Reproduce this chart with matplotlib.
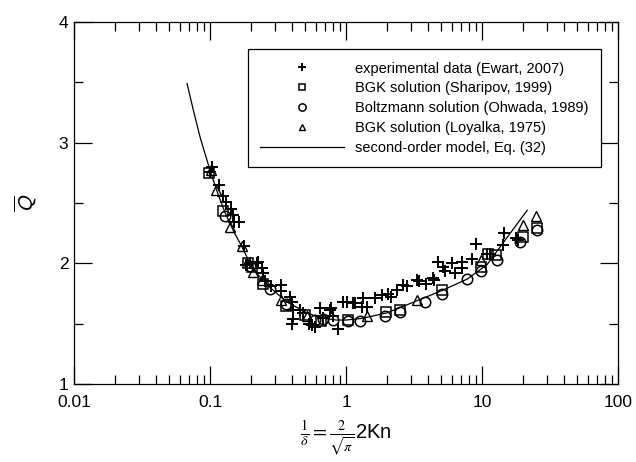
import matplotlib
matplotlib.use("Agg")
import matplotlib.pyplot as plt
from matplotlib.ticker import FixedLocator, LogLocator, NullFormatter, FixedFormatter

plt.rcParams['font.family'] = ['Liberation Sans', 'DejaVu Sans']
plt.rcParams['mathtext.fontset'] = 'stix'

# experimental data (Ewart, 2007)
exp_x = [0.103, 0.100, 0.117, 0.125, 0.131, 0.142, 0.147, 0.149, 0.162, 0.179, 0.183,
         0.187, 0.197, 0.220, 0.227, 0.240, 0.247, 0.253, 0.280, 0.330, 0.330, 0.386,
         0.398, 0.410, 0.410, 0.400, 0.460, 0.480, 0.530, 0.560, 0.590, 0.640, 0.680,
         0.760, 0.780, 0.800, 0.880, 0.950, 1.01, 1.13, 1.16, 1.30, 1.34, 1.42, 1.64,
         1.83, 2.04, 2.15, 2.37, 2.62, 2.79, 3.32, 3.45, 3.90, 4.37, 4.40, 4.78, 5.20,
         5.35, 5.98, 6.30, 7.10, 7.10, 8.40, 9.10, 10.8, 11.4, 14.2, 14.6, 17.9, 18.3]
exp_q = [2.80, 2.76, 2.65, 2.56, 2.51, 2.45, 2.40, 2.34, 2.34, 2.14, 1.99,
         1.99, 2.00, 2.00, 2.01, 1.96, 1.92, 1.85, 1.81, 1.82, 1.77, 1.72,
         1.68, 1.61, 1.54, 1.50, 1.61, 1.585, 1.50, 1.49, 1.475, 1.63, 1.55,
         1.61, 1.63, 1.56, 1.46, 1.68, 1.68, 1.67, 1.67, 1.64, 1.71, 1.64, 1.71,
         1.74, 1.75, 1.72, 1.78, 1.82, 1.81, 1.86, 1.85, 1.83, 1.875, 1.86, 2.01, 1.97,
         1.94, 2.00, 1.92, 2.01, 1.96, 2.04, 2.16, 2.08, 2.08, 2.15, 2.25, 2.21, 2.19]

# BGK solution (Sharipov, 1999)
shar_x = [0.098, 0.125, 0.190, 0.203, 0.247, 0.360, 0.500, 0.660, 1.04, 1.98, 2.50,
          5.06, 9.9, 11.1, 12.7, 20.1, 25.4]
shar_q = [2.75, 2.43, 2.00, 1.97, 1.83, 1.65, 1.57, 1.52, 1.53, 1.60, 1.61,
          1.78, 1.97, 2.08, 2.07, 2.22, 2.29]

# Boltzmann solution (Ohwada, 1989)
ohw_x = [0.129, 0.197, 0.275, 0.360, 0.590, 0.680, 0.800, 1.04, 1.27, 1.94, 2.50,
         3.80, 5.07, 7.8, 9.9, 12.8, 19.0, 25.4]
ohw_q = [2.39, 1.98, 1.79, 1.66, 1.53, 1.54, 1.53, 1.52, 1.52, 1.56, 1.60,
         1.68, 1.75, 1.87, 1.94, 2.03, 2.18, 2.28]

# BGK solution (Loyalka, 1975)
loy_x = [0.101, 0.111, 0.140, 0.171, 0.208, 0.240, 0.330, 0.520, 1.42, 3.30, 9.9, 20.1, 25.0]
loy_q = [2.77, 2.61, 2.30, 2.14, 1.93, 1.86, 1.70, 1.56, 1.56, 1.70, 2.03, 2.32, 2.39]

# second-order model, Eq. (32)
mod_x = [0.0678, 0.0750, 0.0843, 0.100, 0.114, 0.129, 0.150, 0.171, 0.207, 0.276,
         0.367, 0.516, 0.640, 0.850, 1.00, 1.33, 2.00, 3.50, 5.20, 7.80, 10.9,
         14.3, 21.5]
mod_q = [3.49, 3.28, 3.05, 2.77, 2.58, 2.42, 2.26, 2.14, 1.95, 1.80,
         1.68, 1.59, 1.55, 1.53, 1.53, 1.545, 1.59, 1.70, 1.78, 1.87, 1.99,
         2.17, 2.44]

fig = plt.figure(figsize=(6.36, 4.62), dpi=100)
ax = fig.add_axes([0.1164, 0.1688, 0.8553, 0.7836])

ax.plot(exp_x, exp_q, '+', color='black', ms=8, mew=1.4, ls='none',
        label='experimental data (Ewart, 2007)')
ax.plot(shar_x, shar_q, 's', mfc='none', mec='black', ms=7, mew=1.1, ls='none',
        label='BGK solution (Sharipov, 1999)')
ax.plot(ohw_x, ohw_q, 'o', mfc='none', mec='black', ms=7.5, mew=1.1, ls='none',
        label='Boltzmann solution (Ohwada, 1989)')
ax.plot(loy_x, loy_q, '^', mfc='none', mec='black', ms=7, mew=1.0, ls='none',
        label='BGK solution (Loyalka, 1975)')
ax.plot(mod_x, mod_q, '-', color='black', lw=0.9,
        label='second-order model, Eq. (32)')

ax.set_xscale('log')
ax.set_xlim(0.01, 100)
ax.set_ylim(1, 4)
ax.xaxis.set_major_locator(FixedLocator([0.01, 0.1, 1, 10, 100]))
ax.xaxis.set_major_formatter(FixedFormatter(['0.01', '0.1', '1', '10', '100']))
ax.xaxis.set_minor_locator(LogLocator(base=10, subs=range(2, 10)))
ax.xaxis.set_minor_formatter(NullFormatter())
ax.yaxis.set_major_locator(FixedLocator([1, 2, 3, 4]))
ax.yaxis.set_minor_locator(FixedLocator([1.5, 2.5, 3.5]))

ax.tick_params(which='both', direction='in', top=True, right=True,
               labelsize=12.5, width=0.9, colors='black')
ax.tick_params(which='major', length=13)
ax.tick_params(which='minor', length=6.5)
ax.tick_params(axis='x', pad=8)
ax.tick_params(axis='y', pad=4)
for s in ax.spines.values():
    s.set_linewidth(0.9)

ax.set_ylabel(r'$\overline{\mathsf{Q}}$', fontsize=15, labelpad=14)
ax.set_xlabel(r'$\frac{1}{\delta} = \frac{2}{\sqrt{\pi}}$2Kn', fontsize=14.5, labelpad=6)

leg = ax.legend(loc='upper right', bbox_to_anchor=(0.969, 0.925), fontsize=10.5,
                frameon=True, fancybox=False, edgecolor='black', framealpha=1,
                handlelength=5.7, handletextpad=0.8, labelspacing=0.4,
                markerscale=0.7, borderpad=0.85, borderaxespad=0.0)
leg.get_frame().set_linewidth(0.9)

fig.savefig('out.png', dpi=100)
